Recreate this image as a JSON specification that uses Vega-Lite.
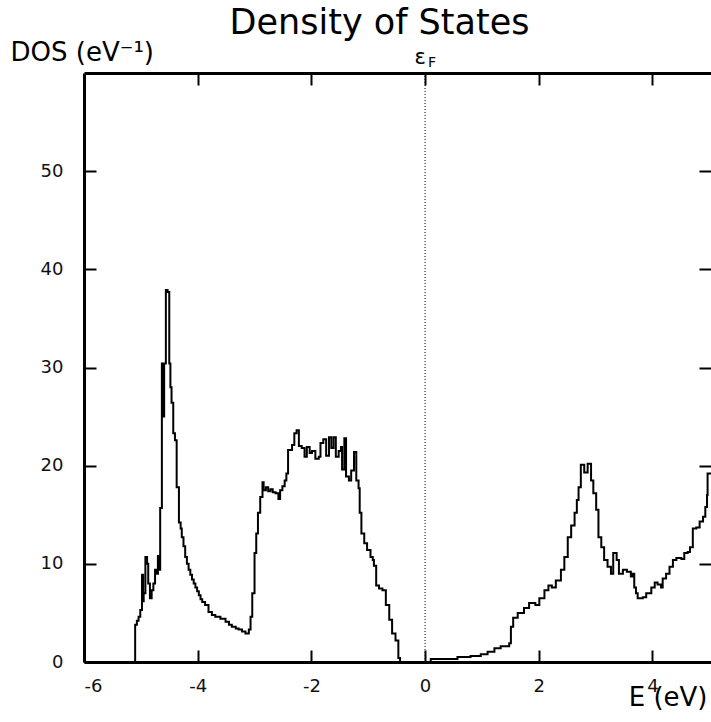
{
  "$schema": "https://vega.github.io/schema/vega-lite/v6.json",
  "autosize": {"type": "none"},
  "padding": {"left": 84, "top": 73, "right": 0, "bottom": 60},
  "width": 627,
  "height": 589,
  "background": "white",
  "config": {
    "font": "DejaVu Sans",
    "view": {"stroke": null},
    "axis": {
      "grid": false,
      "domainColor": "black",
      "domainWidth": 3,
      "tickColor": "black",
      "tickWidth": 2,
      "tickSize": -12,
      "labelColor": "#111111",
      "labelFontSize": 18,
      "labelFont": "DejaVu Sans",
      "titleColor": "black",
      "titleFont": "DejaVu Sans",
      "titleFontWeight": "normal",
      "titleFontSize": 26
    }
  },
  "title": {
    "text": "Density of States",
    "fontSize": 35,
    "fontWeight": "normal",
    "font": "DejaVu Sans",
    "color": "black",
    "anchor": "middle",
    "frame": "group",
    "dx": -18,
    "offset": -30,
    "baseline": "alphabetic"
  },
  "data": {
    "values": [
      {"E": -6.0, "DOS": 0}, {"E": -5.11, "DOS": 0}, {"E": -5.10, "DOS": 3.8}, {"E": -5.07, "DOS": 4.2},
      {"E": -5.04, "DOS": 4.6}, {"E": -5.01, "DOS": 5.3}, {"E": -4.98, "DOS": 8.9}, {"E": -4.96, "DOS": 6.2},
      {"E": -4.95, "DOS": 7.0}, {"E": -4.92, "DOS": 10.7}, {"E": -4.89, "DOS": 10.0}, {"E": -4.87, "DOS": 8.0},
      {"E": -4.84, "DOS": 6.5}, {"E": -4.81, "DOS": 7.3}, {"E": -4.78, "DOS": 8.0}, {"E": -4.75, "DOS": 9.4},
      {"E": -4.72, "DOS": 9.0}, {"E": -4.70, "DOS": 10.8}, {"E": -4.68, "DOS": 9.4}, {"E": -4.66, "DOS": 15.7},
      {"E": -4.63, "DOS": 30.4}, {"E": -4.61, "DOS": 25.0}, {"E": -4.59, "DOS": 30.4}, {"E": -4.56, "DOS": 37.9},
      {"E": -4.53, "DOS": 37.7}, {"E": -4.50, "DOS": 30.4}, {"E": -4.48, "DOS": 28.0}, {"E": -4.46, "DOS": 26.4},
      {"E": -4.43, "DOS": 23.3}, {"E": -4.40, "DOS": 22.6}, {"E": -4.37, "DOS": 17.8}, {"E": -4.33, "DOS": 14.2},
      {"E": -4.30, "DOS": 13.6}, {"E": -4.28, "DOS": 12.7}, {"E": -4.25, "DOS": 11.8}, {"E": -4.22, "DOS": 10.7},
      {"E": -4.19, "DOS": 10.0}, {"E": -4.16, "DOS": 9.4}, {"E": -4.13, "DOS": 8.9}, {"E": -4.10, "DOS": 8.4},
      {"E": -4.07, "DOS": 8.0}, {"E": -4.04, "DOS": 7.6}, {"E": -4.01, "DOS": 7.2}, {"E": -3.98, "DOS": 6.8},
      {"E": -3.95, "DOS": 6.4}, {"E": -3.92, "DOS": 6.1}, {"E": -3.87, "DOS": 5.8}, {"E": -3.81, "DOS": 5.1},
      {"E": -3.75, "DOS": 4.8}, {"E": -3.69, "DOS": 4.6}, {"E": -3.60, "DOS": 4.4}, {"E": -3.51, "DOS": 4.1},
      {"E": -3.45, "DOS": 3.8}, {"E": -3.40, "DOS": 3.6}, {"E": -3.33, "DOS": 3.4}, {"E": -3.28, "DOS": 3.3},
      {"E": -3.22, "DOS": 3.1}, {"E": -3.16, "DOS": 2.9}, {"E": -3.10, "DOS": 3.3}, {"E": -3.07, "DOS": 4.6},
      {"E": -3.04, "DOS": 7.0}, {"E": -3.00, "DOS": 11.1}, {"E": -2.97, "DOS": 13.1}, {"E": -2.94, "DOS": 15.2},
      {"E": -2.90, "DOS": 16.8}, {"E": -2.86, "DOS": 18.3}, {"E": -2.84, "DOS": 17.5}, {"E": -2.80, "DOS": 17.8},
      {"E": -2.76, "DOS": 17.4}, {"E": -2.72, "DOS": 17.6}, {"E": -2.68, "DOS": 17.3}, {"E": -2.63, "DOS": 17.2},
      {"E": -2.58, "DOS": 16.6}, {"E": -2.55, "DOS": 17.5}, {"E": -2.51, "DOS": 17.9}, {"E": -2.47, "DOS": 18.5},
      {"E": -2.44, "DOS": 19.2}, {"E": -2.41, "DOS": 21.6}, {"E": -2.34, "DOS": 22.1}, {"E": -2.30, "DOS": 23.3},
      {"E": -2.26, "DOS": 23.6}, {"E": -2.22, "DOS": 22.0}, {"E": -2.17, "DOS": 21.8}, {"E": -2.12, "DOS": 20.9},
      {"E": -2.08, "DOS": 21.9}, {"E": -2.03, "DOS": 21.3}, {"E": -1.99, "DOS": 21.5}, {"E": -1.93, "DOS": 20.7},
      {"E": -1.87, "DOS": 20.9}, {"E": -1.84, "DOS": 22.3}, {"E": -1.79, "DOS": 22.7}, {"E": -1.74, "DOS": 21.0},
      {"E": -1.69, "DOS": 22.9}, {"E": -1.65, "DOS": 21.8}, {"E": -1.61, "DOS": 22.9}, {"E": -1.57, "DOS": 20.9},
      {"E": -1.52, "DOS": 21.5}, {"E": -1.48, "DOS": 21.9}, {"E": -1.46, "DOS": 19.6}, {"E": -1.42, "DOS": 22.8},
      {"E": -1.39, "DOS": 18.9}, {"E": -1.34, "DOS": 18.5}, {"E": -1.30, "DOS": 19.5}, {"E": -1.25, "DOS": 21.4},
      {"E": -1.21, "DOS": 18.5}, {"E": -1.17, "DOS": 17.7}, {"E": -1.15, "DOS": 15.2}, {"E": -1.12, "DOS": 13.1},
      {"E": -1.07, "DOS": 12.1}, {"E": -1.02, "DOS": 11.4}, {"E": -0.96, "DOS": 10.7}, {"E": -0.92, "DOS": 10.4},
      {"E": -0.90, "DOS": 9.8}, {"E": -0.86, "DOS": 7.8}, {"E": -0.81, "DOS": 7.5}, {"E": -0.75, "DOS": 7.3},
      {"E": -0.69, "DOS": 5.8}, {"E": -0.63, "DOS": 4.3}, {"E": -0.58, "DOS": 2.9}, {"E": -0.52, "DOS": 2.2},
      {"E": -0.47, "DOS": 0.4}, {"E": -0.44, "DOS": 0}, {"E": 0.10, "DOS": 0.3}, {"E": 0.57, "DOS": 0.5},
      {"E": 0.80, "DOS": 0.6}, {"E": 0.98, "DOS": 0.8}, {"E": 1.10, "DOS": 1.05}, {"E": 1.22, "DOS": 1.4},
      {"E": 1.33, "DOS": 1.6}, {"E": 1.48, "DOS": 1.9}, {"E": 1.51, "DOS": 3.6}, {"E": 1.55, "DOS": 4.5},
      {"E": 1.63, "DOS": 5.0}, {"E": 1.74, "DOS": 5.5}, {"E": 1.83, "DOS": 6.0}, {"E": 1.94, "DOS": 5.8},
      {"E": 2.01, "DOS": 6.5}, {"E": 2.10, "DOS": 7.3}, {"E": 2.17, "DOS": 7.8}, {"E": 2.23, "DOS": 7.6},
      {"E": 2.30, "DOS": 8.3}, {"E": 2.39, "DOS": 9.4}, {"E": 2.45, "DOS": 10.7}, {"E": 2.51, "DOS": 12.7},
      {"E": 2.57, "DOS": 13.9}, {"E": 2.63, "DOS": 15.2}, {"E": 2.67, "DOS": 16.5}, {"E": 2.70, "DOS": 17.8},
      {"E": 2.74, "DOS": 20.1}, {"E": 2.80, "DOS": 19.3}, {"E": 2.86, "DOS": 20.2}, {"E": 2.92, "DOS": 18.5},
      {"E": 2.96, "DOS": 17.2}, {"E": 3.01, "DOS": 15.5}, {"E": 3.05, "DOS": 12.7}, {"E": 3.10, "DOS": 11.7},
      {"E": 3.15, "DOS": 10.4}, {"E": 3.21, "DOS": 9.7}, {"E": 3.27, "DOS": 9.0}, {"E": 3.31, "DOS": 11.1},
      {"E": 3.37, "DOS": 10.4}, {"E": 3.41, "DOS": 9.0}, {"E": 3.48, "DOS": 9.4}, {"E": 3.55, "DOS": 9.2},
      {"E": 3.62, "DOS": 8.7}, {"E": 3.65, "DOS": 9.0}, {"E": 3.68, "DOS": 7.6}, {"E": 3.71, "DOS": 7.0},
      {"E": 3.74, "DOS": 6.5}, {"E": 3.83, "DOS": 6.6}, {"E": 3.89, "DOS": 7.0}, {"E": 3.98, "DOS": 7.6},
      {"E": 4.04, "DOS": 8.1}, {"E": 4.09, "DOS": 7.9}, {"E": 4.15, "DOS": 7.6}, {"E": 4.18, "DOS": 8.5},
      {"E": 4.24, "DOS": 9.0}, {"E": 4.30, "DOS": 9.7}, {"E": 4.36, "DOS": 10.4}, {"E": 4.42, "DOS": 10.6},
      {"E": 4.51, "DOS": 10.5}, {"E": 4.56, "DOS": 11.1}, {"E": 4.62, "DOS": 11.2}, {"E": 4.66, "DOS": 11.7},
      {"E": 4.71, "DOS": 13.6}, {"E": 4.77, "DOS": 13.7}, {"E": 4.83, "DOS": 14.3}, {"E": 4.89, "DOS": 14.8},
      {"E": 4.93, "DOS": 15.8}, {"E": 4.96, "DOS": 17.0}, {"E": 4.97, "DOS": 19.2}, {"E": 5.05, "DOS": 19.2}
    ]
  },
  "layer": [
    {
      "mark": {"type": "line", "interpolate": "step-after", "color": "black", "strokeWidth": 2, "clip": true},
      "encoding": {
        "x": {
          "field": "E",
          "type": "quantitative",
          "scale": {"domain": [-6, 5.03], "nice": false, "zero": false},
          "axis": {
            "orient": "bottom",
            "values": [-6, -4, -2, 0, 2, 4],
            "labelExpr": "datum.value < 0 ? '-' + abs(datum.value) : '' + datum.value",
            "labelPadding": 27,
            "title": "E (eV)",
            "titleAngle": 0,
            "titleX": 623,
            "titleY": 35,
            "titleAlign": "right",
            "titleBaseline": "middle"
          }
        },
        "y": {
          "field": "DOS",
          "type": "quantitative",
          "scale": {"domain": [0, 60], "nice": false},
          "axis": {
            "orient": "left",
            "values": [0, 10, 20, 30, 40, 50],
            "labelPadding": 33,
            "title": "DOS (eV⁻¹)",
            "titleAngle": 0,
            "titleX": -74,
            "titleY": -21,
            "titleAlign": "left",
            "titleBaseline": "middle"
          }
        }
      }
    },
    {
      "data": {"values": [{}]},
      "mark": {"type": "rule", "color": "black", "strokeWidth": 1, "strokeDash": [1, 2]},
      "encoding": {
        "x": {
          "datum": 0,
          "type": "quantitative",
          "axis": {"orient": "top", "values": [-4, -2, 0, 2, 4], "labels": false, "title": null}
        },
        "y": {
          "datum": 0,
          "type": "quantitative",
          "axis": {"orient": "right", "values": [10, 20, 30, 40, 50], "labels": false, "domain": false, "title": null}
        },
        "y2": {"datum": 60}
      }
    },
    {
      "data": {"values": [{}]},
      "mark": {"type": "text", "text": "ε", "fontSize": 21, "color": "black", "align": "center", "baseline": "alphabetic", "dx": -5, "dy": -9},
      "encoding": {
        "x": {"datum": 0, "type": "quantitative", "axis": null},
        "y": {"datum": 60, "type": "quantitative", "axis": null}
      }
    },
    {
      "data": {"values": [{}]},
      "mark": {"type": "text", "text": "F", "fontSize": 14, "color": "black", "align": "center", "baseline": "alphabetic", "dx": 7, "dy": -6},
      "encoding": {
        "x": {"datum": 0, "type": "quantitative", "axis": null},
        "y": {"datum": 60, "type": "quantitative", "axis": null}
      }
    }
  ],
  "resolve": {"axis": {"x": "independent", "y": "independent"}}
}
